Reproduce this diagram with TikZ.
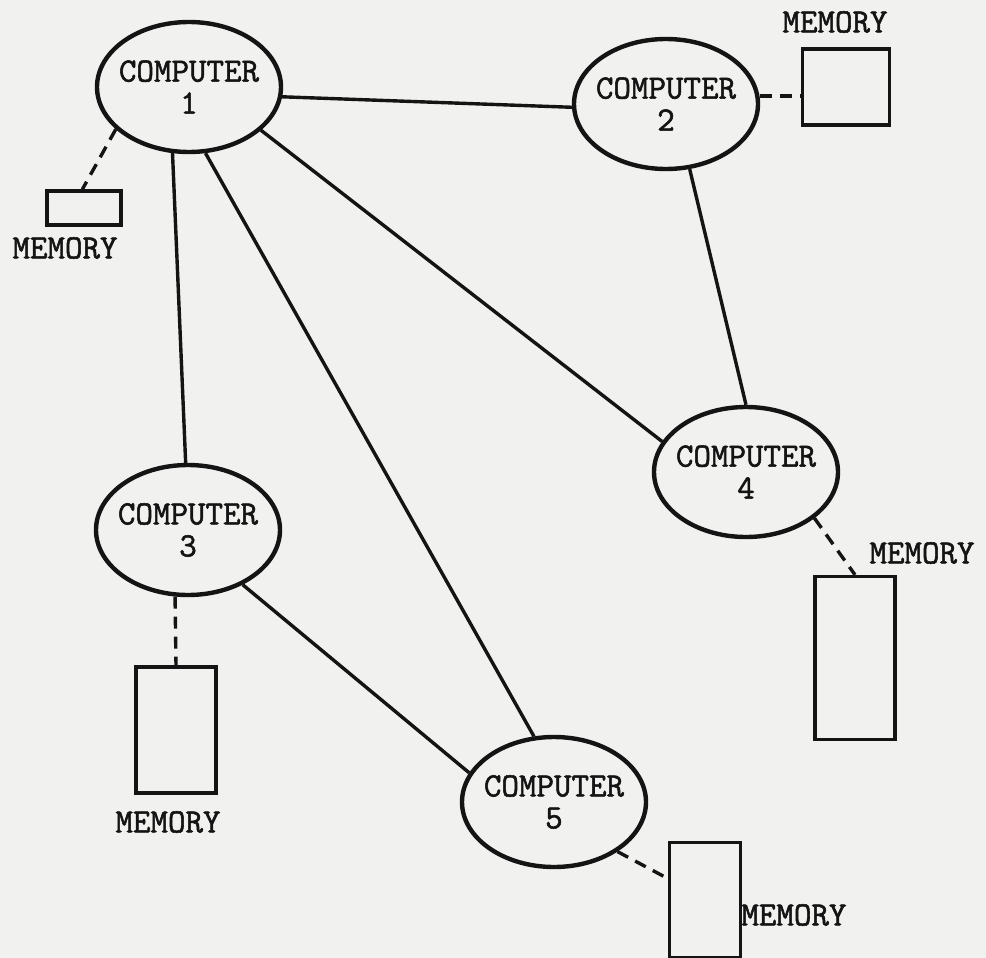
\documentclass[tikz,border=0pt]{standalone}
\usepackage{fontspec}
\usetikzlibrary{shapes.geometric}
\newfontfamily\typewriter{Latin Modern Mono}[FakeBold=1.6]
\definecolor{paper}{RGB}{241,241,239}
\definecolor{ink}{RGB}{20,20,20}
\begin{document}
\begin{tikzpicture}[x=0.5pt,y=-0.5pt,
  computer/.style={ellipse,draw=ink,line width=2.2pt,minimum width=92pt,minimum height=65pt,inner sep=-3pt,align=center,font=\typewriter\fontsize{17}{16}\selectfont,text=ink},
  memory/.style={rectangle,draw=ink,line width=1.7pt,inner sep=0pt},
  memlabel/.style={font=\typewriter\fontsize{17}{16}\selectfont,text=ink,inner sep=0pt},
  link/.style={draw=ink,line width=1.7pt},
  memlink/.style={draw=ink,line width=1.7pt,dash pattern=on 6pt off 4pt}]
\useasboundingbox[fill=paper] (0,0) rectangle (986,958);
\node[computer] (c1) at (189,87) {COMPUTER\\1};
\node[computer] (c2) at (666,104) {COMPUTER\\2};
\node[computer] (c3) at (188,530) {COMPUTER\\3};
\node[computer] (c4) at (746,472) {COMPUTER\\4};
\node[computer] (c5) at (554,802) {COMPUTER\\5};
\node[memory,minimum width=37pt,minimum height=17pt] (m1) at (84,208) {};
\node[memory,minimum width=43.5pt,minimum height=38pt] (m2) at (846,87) {};
\node[memory,minimum width=40pt,minimum height=63pt] (m3) at (176,730) {};
\node[memory,minimum width=40pt,minimum height=81.5pt] (m4) at (855,658) {};
\node[memory,minimum width=35.5pt,minimum height=57.5pt] (m5) at (705,900) {};
\node[memlabel] (l1) at (65,248) {MEMORY};
\node[memlabel] (l2) at (835,22) {MEMORY};
\node[memlabel] (l3) at (168,822) {MEMORY};
\node[memlabel] (l4) at (922,553) {MEMORY};
\node[memlabel,anchor=west] (l5) at (741,915) {MEMORY};
\path[link] (c1.-6) -- (c2.182);
\path[link] (c1.256) -- (c3.92);
\path[link] (c1.284) -- (c5.107);
\path[link] (c1.-31) -- (c4.160);
\path[link] (c2.-70) -- (c4.90);
\path[link] (c3.-45) -- (c5.161);
\path[memlink] (c1.210) -- (m1.95);
\path[memlink] (c2.5) -- (c2.5 -| m2.west);
\path[memlink] (c3.259) -- (m3.north);
\path[memlink] (c4.-34) -- (m4.north);
\path[memlink] (c5.-38) -- (m5.150);
\end{tikzpicture}
\end{document}
